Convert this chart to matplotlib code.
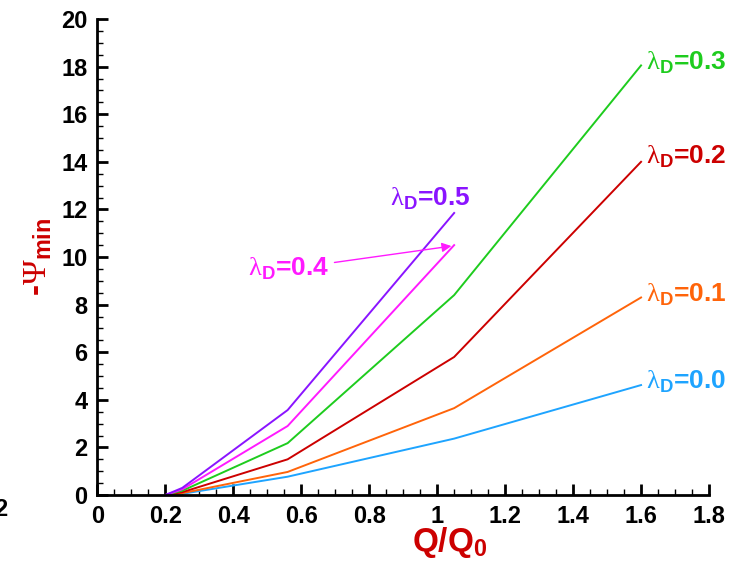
import matplotlib.pyplot as plt
from matplotlib.ticker import MultipleLocator

plt.rcParams['font.family'] = ['Liberation Sans', 'DejaVu Sans']
plt.rcParams['mathtext.fontset'] = 'custom'
plt.rcParams['mathtext.rm'] = 'Liberation Serif'
plt.rcParams['mathtext.sf'] = 'Liberation Sans:bold'
plt.rcParams['mathtext.bf'] = 'Liberation Sans:bold'

# flow ratio Q/Q0
q_long = [0.2, 0.25, 0.56, 1.05, 1.6]
q_short = [0.2, 0.25, 0.56, 1.05]

# -Psi_min for each lambda_D
psi_00 = [0.0, 0.05, 0.77, 2.37, 4.62]
psi_01 = [0.0, 0.08, 0.97, 3.65, 8.3]
psi_02 = [0.0, 0.12, 1.5, 5.8, 14.0]
psi_03 = [0.0, 0.18, 2.18, 8.4, 18.05]
psi_04 = [0.0, 0.24, 2.9, 10.5]
psi_05 = [0.0, 0.3, 3.57, 11.85]

labels = ['0.0', '0.1', '0.2', '0.3', '0.4', '0.5']
colors = ['#1ea4ff', '#ff640a', '#cc0000', '#1ecc1e', '#ff1aff', '#8a14ff']

fig = plt.figure(figsize=(7.51, 5.66), dpi=100)
ax = fig.add_axes([0.1296, 0.1254, 0.8145, 0.8410])

series = [(q_long, psi_00), (q_long, psi_01), (q_long, psi_02),
          (q_long, psi_03), (q_short, psi_04), (q_short, psi_05)]
for (x, y), c in zip(series, colors):
    ax.plot(x, y, color=c, lw=1.4)

def lam(v):
    return r'$\mathrm{\lambda}_{\mathsf{D}}$=' + v

# labels at the line ends
for y, v, c in [(4.75, labels[0], colors[0]), (8.4, labels[1], colors[1]),
                (14.2, labels[2], colors[2]), (18.15, labels[3], colors[3])]:
    ax.text(1.615, y, lam(v), color=c, fontsize=19, fontweight='bold',
            ha='left', va='center')

ax.text(0.86, 12.45, lam(labels[5]), color=colors[5], fontsize=19,
        fontweight='bold', ha='left', va='center')
ax.annotate(lam(labels[4]), xy=(1.042, 10.46), xytext=(0.443, 9.5),
            color=colors[4], fontsize=19, fontweight='bold',
            ha='left', va='center',
            arrowprops=dict(arrowstyle='-|>', color=colors[4], lw=1,
                            mutation_scale=14, shrinkA=2, shrinkB=0))

ax.set_xlim(0, 1.8)
ax.set_ylim(0, 20)
ax.xaxis.set_major_locator(MultipleLocator(0.2))
ax.xaxis.set_minor_locator(MultipleLocator(0.05))
ax.yaxis.set_major_locator(MultipleLocator(2))
ax.yaxis.set_minor_locator(MultipleLocator(0.5))
ax.set_xticks([0, 0.2, 0.4, 0.6, 0.8, 1, 1.2, 1.4, 1.6, 1.8])
ax.set_xticklabels(['0', '0.2', '0.4', '0.6', '0.8', '1', '1.2', '1.4', '1.6', '1.8'])

for s in ['top', 'right']:
    ax.spines[s].set_visible(False)
for s in ['left', 'bottom']:
    ax.spines[s].set_linewidth(2)

ax.tick_params(which='major', direction='in', length=8, width=2,
               labelsize=17, pad=7)
ax.tick_params(which='minor', direction='in', length=4.5, width=1)
for t in ax.get_xticklabels() + ax.get_yticklabels():
    t.set_fontweight('bold')

fig.text(450 / 751, 1 - 543 / 566, r'Q/Q$_{\mathbf{0}}$', color='#cc0000',
         fontsize=24, fontweight='bold', ha='center', va='center')
ax.set_ylabel(r'-$\mathrm{\Psi}_{\mathbf{min}}$', color='#cc0000',
              fontsize=24, fontweight='bold', labelpad=5)

fig.text(0.0093, 0.1007, '2', fontsize=17, fontweight='bold',
         ha='right', va='center')

fig.savefig('out.png', dpi=100)
